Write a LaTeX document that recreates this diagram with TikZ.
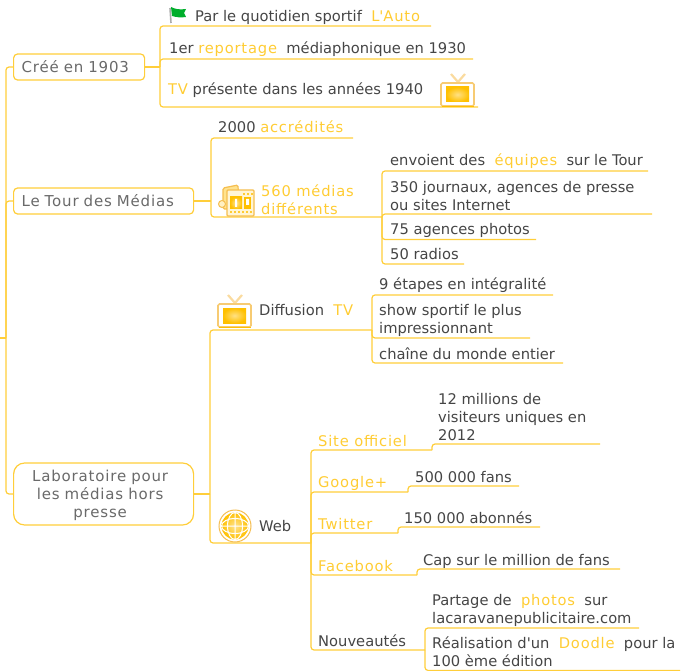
\documentclass[tikz,border=0pt]{standalone}
\usepackage{fontspec}
\setmainfont{DejaVu Sans}
\newfontfamily\spacedfont[LetterSpace=5.5]{DejaVu Sans}
\definecolor{gold}{HTML}{FFCC33}
\definecolor{goldline}{HTML}{FFCE3A}
\definecolor{goldedge}{HTML}{F5BE50}
\definecolor{goldcore}{HTML}{FFC000}
\definecolor{ink}{HTML}{454545}
\definecolor{boxink}{HTML}{6A6A6A}
\definecolor{flaggreen}{HTML}{00AE2C}
\newcommand{\hl}[1]{\textcolor{gold}{\spacedfont #1}}
\tikzset{
  x=1pt,y=-1pt,
  link/.style={draw=goldline,line width=1.2pt,rounded corners=3pt},
  base text/.style={font=\fontsize{14.7}{18}\selectfont,text=ink,inner sep=0pt},
  leaf/.style={base text,anchor=base west},
  goldleaf/.style={leaf,text=gold,font=\fontsize{14.7}{18}\selectfont\spacedfont},
  multi/.style={base text,anchor=west,align=left},
  topicbox/.style={draw=goldline,line width=1.2pt,rounded corners=4pt,fill=white,anchor=west,
    font=\fontsize{15}{18}\selectfont\spacedfont,text=boxink,minimum height=26pt,inner xsep=8pt,inner ysep=0pt,align=left},
  tvicon/.pic={
    \draw[line width=2.2pt,draw=goldedge!55] (10,-9) -- (17,-1) -- (24,-9);
    \draw[line width=1.6pt,draw=goldedge!80,fill=white,rounded corners=1.5pt] (0,0) rectangle (33,23);
    \draw[draw=goldcore,line width=1.5pt] (0.5,23.5) -- (32.5,23.5);
    \shade[inner color=gold!60,outer color=goldcore] (5,4) rectangle (28,19);
  },
  flagicon/.pic={
    \draw[line width=1.6pt,draw=gray!65] (1,1) -- (2,16);
    \fill[flaggreen] (2,0) .. controls (6,2) and (10,3) .. (17,2) -- (15,6) -- (17,10) .. controls (11,11) and (7,10) .. (3,9) -- cycle;
  },
  mediaicon/.pic={
    \draw[line width=1.2pt,draw=goldedge,fill=gold!55,rounded corners=1.5pt] (5,3) -- (20,0) -- (21,24) -- (5,24) -- cycle;
    \fill[draw=goldedge,fill=gold!30,line width=1pt] (4,19) circle (3.5);
    \draw[line width=1.4pt,draw=goldedge,fill=gold!20,rounded corners=1pt] (9,5) rectangle (36,31);
    \shade[inner color=gold!50,outer color=goldcore] (12,12) rectangle (24,24);
    \fill[goldcore] (26,12) rectangle (33,24);
    \fill[white] (17,14) rectangle (19,22) (28,14) rectangle (31,20);
    \foreach \i in {12,16,...,32}{\fill[gold] (\i,26.5) rectangle +(2.4,2);}
    \foreach \i in {25,29,33}{\fill[gold] (\i,8) rectangle +(2,2);}
  },
  globeicon/.pic={
    \draw[draw=goldedge,line width=1pt,fill=white] (0,0) circle (16);
    \shade[inner color=gold!55,outer color=goldcore] (0,0) circle (13.5);
    \draw[white,line width=1pt] (-13.5,0) -- (13.5,0) (0,-13.5) -- (0,13.5)
      (0,0) ellipse (7.5 and 13.5) (0,0) ellipse (13.5 and 7.5);
  },
}
\begin{document}
\begin{tikzpicture}
\useasboundingbox (0,0) rectangle (691,671);
% root spine
\coordinate (rootin) at (0,338);
\coordinate (root) at (6,338);
\node[topicbox,text width=115pt] (b1) at (13,67) {Créé en 1903};
\node[topicbox,text width=164pt] (b2) at (13,201) {Le Tour des Médias};
\node[topicbox,text width=164pt,minimum height=62pt,rounded corners=11pt,align=center] (b3) at (13,494)
  {\rule{0pt}{15pt}\hspace*{-7pt}Laboratoire pour\\\hspace*{-7pt}les médias hors\\\hspace*{-7pt}presse};
\draw[link] (rootin) -- (root);
\draw[link] (root) |- (b1.west);
\draw[link] (root) |- (b2.west);
\draw[link] (root) |- (b3.west);
% branch 1
\coordinate (j1) at (160,67);
\node[leaf] (a1) at (195,22) {Par le quotidien sportif\ \ \hl{L\textquotesingle Auto}};
\node[leaf] (a2) at (169,54) {1er \hl{reportage}\ \ médiaphonique en 1930};
\node[leaf] (a3) at (168,95) {\hl{TV} présente dans les années 1940};
\coordinate (a1e) at (431,26);
\coordinate (a2e) at (473,59);
\coordinate (a3e) at (478,107);
\draw[link] (b1.east) -- (j1);
\draw[link] (j1) |- (a1e);
\draw[link] (j1) |- (a2e);
\draw[link] (j1) |- (a3e);
\pic at (169,7) {flagicon};
\pic at (441,83) {tvicon};
% branch 2
\coordinate (j2) at (211,201);
\node[leaf] (c1) at (218,133) {2000 \hl{accrédités}};
\node[multi,text=gold,font=\fontsize{14.7}{18}\selectfont\spacedfont] (c2) at (261,200) {560 médias\\différents};
\coordinate (c1e) at (353,138);
\coordinate (c2e) at (382,217);
\draw[link] (b2.east) -- (j2);
\draw[link] (j2) |- (c1e);
\draw[link] (j2) |- (c2e);
\pic at (218,185) {mediaicon};
\node[leaf] (d1) at (390,166) {envoient des\ \ \hl{équipes}\ \ sur le Tour};
\node[multi] (d2) at (390,196) {350 journaux, agences de presse\\ou sites Internet};
\node[leaf] (d3) at (390,235) {75 agences photos};
\node[leaf] (d4) at (390,260) {50 radios};
\coordinate (d1e) at (648,171);
\coordinate (d2e) at (652,214);
\coordinate (d3e) at (536,239.5);
\coordinate (d4e) at (464,264);
\draw[link] (c2e) |- (d1e);
\draw[link] (c2e) |- (d2e);
\draw[link] (c2e) |- (d3e);
\draw[link] (c2e) |- (d4e);
% branch 3
\coordinate (j3) at (210,494);
\node[leaf] (e1) at (259,316) {Diffusion\ \ \hl{TV}};
\node[leaf] (e2) at (259,531) {Web};
\coordinate (e1e) at (372,330);
\coordinate (e2e) at (311,543);
\draw[link] (b3.east) -- (j3);
\draw[link] (j3) |- (e1e);
\draw[link] (j3) |- (e2e);
\pic at (218,304) {tvicon};
\pic at (235,526) {globeicon};
\node[leaf] (f1) at (379,290) {9 étapes en intégralité};
\node[multi] (f2) at (379,320) {show sportif le plus\\impressionnant};
\node[leaf] (f3) at (379,359) {chaîne du monde entier};
\coordinate (f1e) at (553,295);
\coordinate (f2e) at (530,338);
\coordinate (f3e) at (563,363);
\draw[link] (e1e) |- (f1e);
\draw[link] (e1e) |- (f2e);
\draw[link] (e1e) |- (f3e);
% web children
\node[goldleaf] (g1) at (318,446) {Site officiel};
\node[goldleaf] (g2) at (318,487) {Google+};
\node[goldleaf] (g3) at (318,529) {Twitter};
\node[goldleaf] (g4) at (318,571) {Facebook};
\node[leaf] (g5) at (318,646) {Nouveautés};
\coordinate (g1e) at (432,450);
\coordinate (g2e) at (408,492);
\coordinate (g3e) at (398,533);
\coordinate (g4e) at (417,575);
\coordinate (g5e) at (425,650);
\draw[link] (e2e) |- (g1e);
\draw[link] (e2e) |- (g2e);
\draw[link] (e2e) |- (g3e);
\draw[link] (e2e) |- (g4e);
\draw[link] (e2e) |- (g5e);
\node[multi] (h1) at (438,417) {12 millions de\\visiteurs uniques en\\2012};
\node[leaf] (h2) at (415,482) {500 000 fans};
\node[leaf] (h3) at (404,523) {150 000 abonnés};
\node[leaf] (h4) at (423,565) {Cap sur le million de fans};
\coordinate (h1e) at (600,444);
\coordinate (h2e) at (519,486);
\coordinate (h3e) at (540,527);
\coordinate (h4e) at (620,569);
\draw[link] (g1e) |- (h1e);
\draw[link] (g2e) |- (h2e);
\draw[link] (g3e) |- (h3e);
\draw[link] (g4e) |- (h4e);
\node[multi] (i1) at (432,610) {Partage de\ \ \hl{photos}\ \ sur\\lacaravanepublicitaire.com};
\node[multi] (i2) at (432,652) {Réalisation d{\spacedfont\textquotesingle}un\ \ \hl{Doodle}\ \ pour la\\100 ème édition};
\coordinate (i1e) at (639,628);
\coordinate (i2e) at (680,670.4);
\draw[link] (g5e) |- (i1e);
\draw[link] (g5e) |- (i2e);
\end{tikzpicture}
\end{document}
